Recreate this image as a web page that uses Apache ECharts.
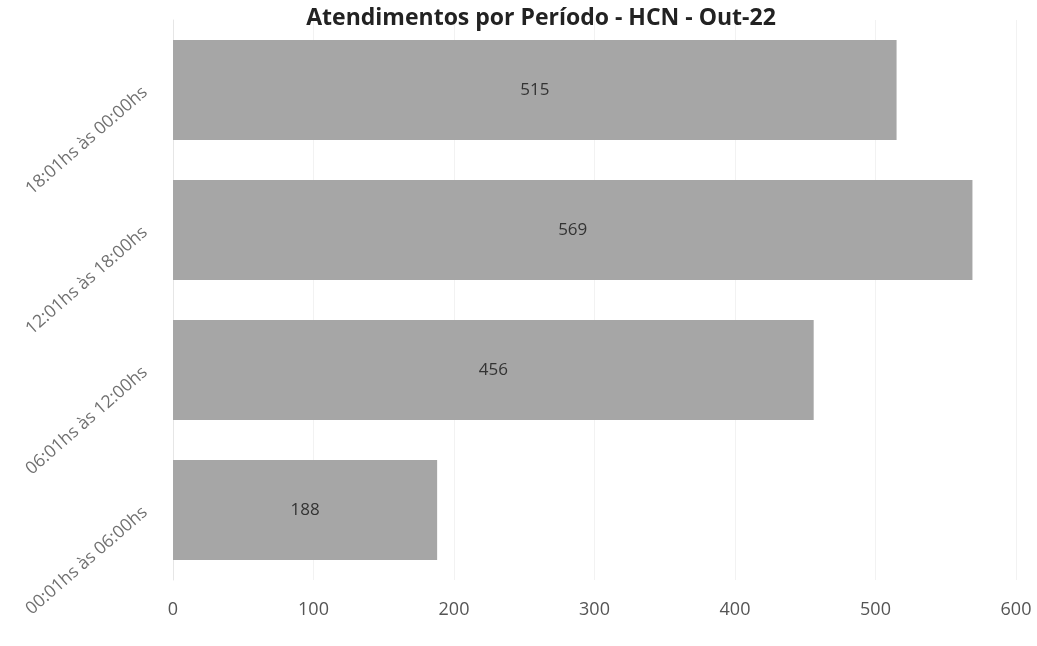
<!DOCTYPE html>
<html><head><meta charset="utf-8">
<script src="https://cdn.jsdelivr.net/npm/echarts@6/dist/echarts.min.js"></script>
<style>html,body{margin:0;padding:0;background:#fff}#c{width:1037px;height:646px}</style>
</head><body><div id="c"></div>
<script>
const titleText = 'Atendimentos por Período - HCN - Out-22';
const categories = ['00:01hs às 06:00hs', '06:01hs às 12:00hs', '12:01hs às 18:00hs', '18:01hs às 00:00hs'];
const values = [188, 456, 569, 515];
const xTicks = { min: 0, max: 600, interval: 100 };

const chart = echarts.init(document.getElementById('c'));
chart.setOption({
  animation: false,
  backgroundColor: '#fff',
  title: {
    text: titleText,
    left: 536, top: 2, textAlign: 'center',
    textStyle: { fontFamily: 'Open Sans', fontWeight: 'bold', fontSize: 23, color: '#222' }
  },
  grid: { left: 173, right: 21, top: 20, bottom: 66, containLabel: false },
  xAxis: {
    type: 'value', min: xTicks.min, max: xTicks.max, interval: xTicks.interval,
    axisLine: { show: false }, axisTick: { show: false },
    splitLine: { show: true, lineStyle: { color: '#f2f2f2', width: 1 } },
    axisLabel: { margin: 21, fontFamily: 'Open Sans', fontSize: 18, color: '#555' }
  },
  yAxis: {
    type: 'category', data: categories,
    axisLine: { show: true, lineStyle: { color: '#e6e6e6' } },
    axisTick: { show: false },
    axisLabel: { rotate: 41, margin: 28, fontFamily: 'Open Sans', fontSize: 17.5, color: '#707070' }
  },
  series: [{
    type: 'bar', data: values, barWidth: 100,
    itemStyle: { color: '#a6a6a6' },
    label: { show: true, position: 'inside', fontFamily: 'Open Sans', fontSize: 17, color: '#333' }
  }]
});
</script></body></html>
